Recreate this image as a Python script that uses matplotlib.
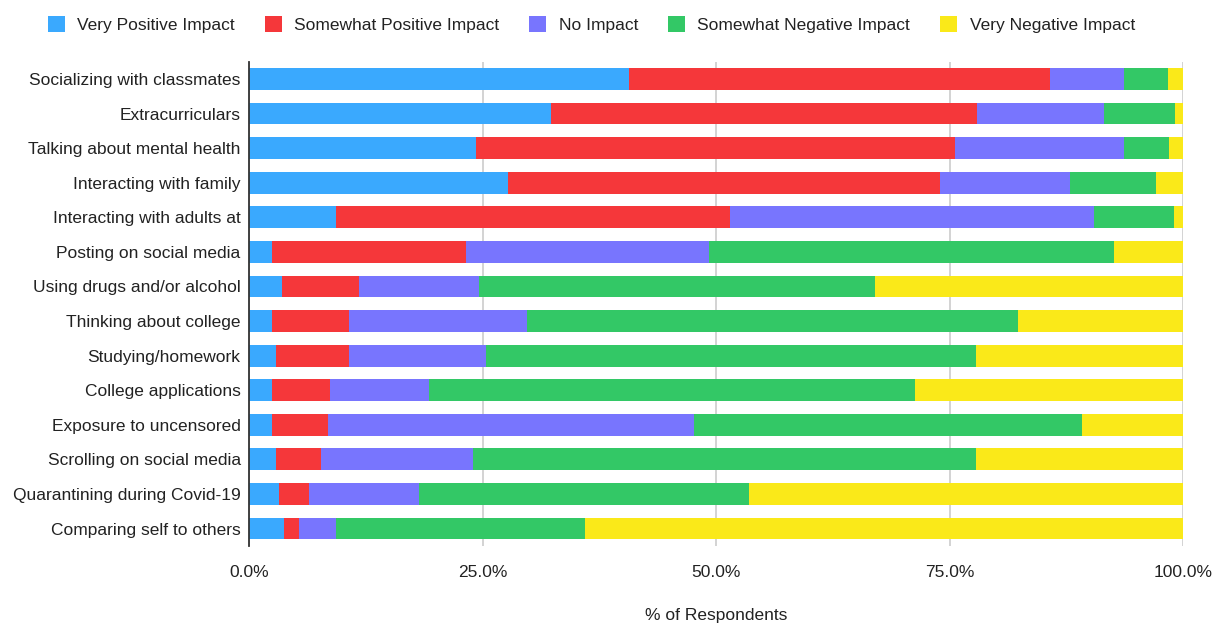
import numpy as np
import matplotlib
matplotlib.use("Agg")
import matplotlib.pyplot as plt
from matplotlib.ticker import FuncFormatter

plt.rcParams['font.family'] = ['Liberation Sans', 'DejaVu Sans']

activities = [
    "Socializing with classmates",
    "Extracurriculars",
    "Talking about mental health",
    "Interacting with family",
    "Interacting with adults at",
    "Posting on social media",
    "Using drugs and/or alcohol",
    "Thinking about college",
    "Studying/homework",
    "College applications",
    "Exposure to uncensored",
    "Scrolling on social media",
    "Quarantining during Covid-19",
    "Comparing self to others",
]

very_positive = [40.7, 32.3, 24.3, 27.7, 9.3, 2.5, 3.5, 2.5, 2.9, 2.5, 2.5, 2.9, 3.2, 3.8]
somewhat_positive = [45.0, 45.6, 51.3, 46.3, 42.2, 20.7, 8.3, 8.2, 7.8, 6.2, 6.0, 4.8, 3.2, 1.6]
no_impact = [8.0, 13.6, 18.1, 13.9, 38.9, 26.0, 12.8, 19.1, 14.7, 10.6, 39.1, 16.3, 11.8, 3.9]
somewhat_negative = [4.7, 7.6, 4.8, 9.2, 8.6, 43.4, 42.4, 52.5, 52.4, 52.0, 41.5, 53.8, 35.3, 26.7]
very_negative = [1.6, 0.9, 1.5, 2.9, 1.0, 7.4, 33.0, 17.7, 22.2, 28.7, 10.9, 22.2, 46.5, 64.0]

series = [
    ("Very Positive Impact", very_positive, "#3AA9FE"),
    ("Somewhat Positive Impact", somewhat_positive, "#F5373A"),
    ("No Impact", no_impact, "#7875FE"),
    ("Somewhat Negative Impact", somewhat_negative, "#33C866"),
    ("Very Negative Impact", very_negative, "#FAE919"),
]

FS = 12.5

fig = plt.figure(figsize=(12.24, 6.25), dpi=100)
ax = fig.add_axes([0.2034, 0.1267, 0.7634, 0.7746])

y = np.arange(len(activities))
left = np.zeros(len(activities))
for name, vals, color in series:
    vals = np.array(vals)
    ax.barh(y, vals, left=left, height=0.63, color=color, label=name, zorder=3)
    left += vals

ax.set_ylim(len(activities) - 0.5, -0.5)
ax.set_xlim(0, 100)
ax.set_yticks(y)
ax.set_yticklabels(activities, fontsize=FS, color="#222222")
ax.set_xticks([0, 25, 50, 75, 100])
ax.xaxis.set_major_formatter(FuncFormatter(lambda v, p: f"{v:.1f}%"))
ax.tick_params(axis="x", labelsize=FS, colors="#222222", length=0, pad=14)
ax.tick_params(axis="y", length=0, pad=6)
ax.grid(axis="x", color="#cccccc", linewidth=1.2, zorder=0)

for s in ["top", "right", "bottom"]:
    ax.spines[s].set_visible(False)
ax.spines["left"].set_color("#333333")
ax.spines["left"].set_linewidth(1.3)
ax.spines["left"].set_zorder(4)

ax.set_xlabel("% of Respondents", fontsize=FS, color="#222222", labelpad=20)

fig.legend(loc="upper center", bbox_to_anchor=(0.483, 1.0), ncol=5, frameon=False,
           fontsize=FS, handlelength=1.0, handleheight=1.1, handletextpad=0.7,
           columnspacing=1.72, labelcolor="#222222")

fig.savefig("out.png", dpi=100)
